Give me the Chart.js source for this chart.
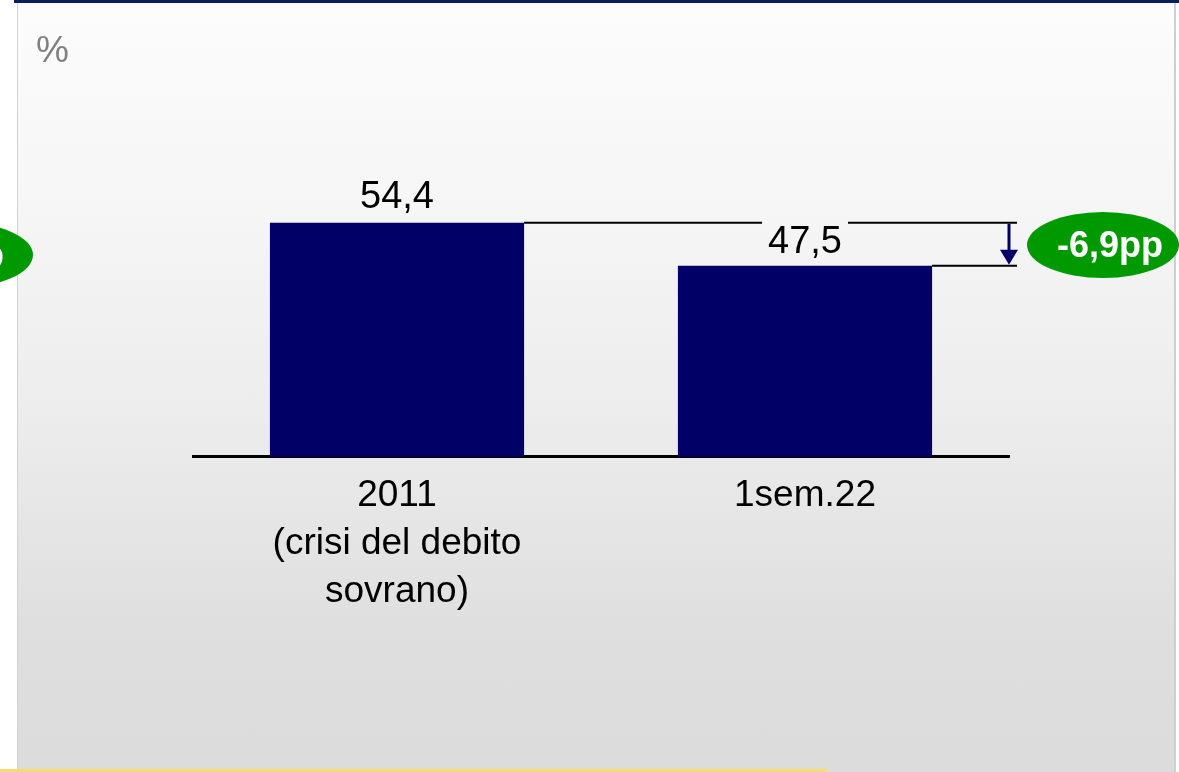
<!DOCTYPE html>
<html>
<head>
<meta charset="utf-8">
<script src="https://cdn.jsdelivr.net/npm/chart.js@4.4.1/dist/chart.umd.min.js"></script>
<style>
  html, body { margin: 0; padding: 0; background: #ffffff; }
  #page { position: relative; width: 1179px; height: 772px; overflow: hidden; background: #ffffff; }
  #panel {
    position: absolute; left: 17px; top: 0; width: 1156px; height: 772px;
    border-left: 1px solid #d2d2d2; border-right: 2px solid #cfcfcf;
    background: linear-gradient(to bottom, #fcfcfc 0px, #f6f6f6 200px, #ececec 420px, #dedede 640px, #dcdcdc 772px);
  }
  #topband { position: absolute; left: 14px; top: 0; width: 1165px; height: 3px; background: #0b1d5a; }
  #bottomline { position: absolute; left: 0; top: 769px; width: 827px; height: 3px; background: #f6da72; }
  #wrap { position: absolute; left: 0; top: 0; width: 1179px; height: 772px; }
</style>
</head>
<body>
<div id="page">
  <div id="panel"></div>
  <div id="topband"></div>
  <div id="bottomline"></div>
  <div id="wrap"><canvas id="chart"></canvas></div>
</div>
<script>
const categories = [["2011", "(crisi del debito", "sovrano)"], "1sem.22"];
const values = [54.4, 47.5];
const valueLabels = ["54,4", "47,5"];
const deltaLabel = "-6,9pp";
const unitLabel = "%";

const FONT = "'Liberation Sans', Arial, sans-serif";
const NAVY = "#000066";
const GREEN = "#009a00";

// annotazioni: linee di riferimento, freccia, ellissi verdi
const annotations = {
    id: "annotations",
    afterDatasetsDraw(chart) {
        const ctx = chart.ctx;
        const meta = chart.getDatasetMeta(0);
        const yScale = chart.scales.y;
        const b1 = meta.data[0], b2 = meta.data[1];
        const y1 = yScale.getPixelForValue(values[0]);
        const y2 = yScale.getPixelForValue(values[1]);
        const r1 = b1.x + b1.width / 2;
        const r2 = b2.x + b2.width / 2;
        const lineEnd = chart.chartArea.right + 8;
        const arrowX = chart.chartArea.right;

        ctx.save();
        ctx.font = "38px " + FONT;
        ctx.textAlign = "center";
        ctx.textBaseline = "alphabetic";

        // etichetta barra 1
        ctx.fillStyle = "#000000";
        ctx.fillText(valueLabels[0], b1.x, y1 - 15);

        // linea orizzontale dal top della barra 1, interrotta dall'etichetta 47,5
        const w2 = ctx.measureText(valueLabels[1]).width;
        const gapL = b2.x - w2 / 2 - 6;
        const gapR = b2.x + w2 / 2 + 6;
        ctx.strokeStyle = "#000000";
        ctx.lineWidth = 2;
        ctx.beginPath();
        ctx.moveTo(r1, y1); ctx.lineTo(gapL, y1);
        ctx.moveTo(gapR, y1); ctx.lineTo(lineEnd, y1);
        ctx.moveTo(r2, y2); ctx.lineTo(lineEnd, y2);
        ctx.stroke();

        ctx.fillText(valueLabels[1], b2.x, y2 - 13);

        // freccia
        ctx.strokeStyle = NAVY;
        ctx.fillStyle = NAVY;
        ctx.lineWidth = 3;
        ctx.beginPath();
        ctx.moveTo(arrowX, y1 + 1); ctx.lineTo(arrowX, y2 - 12);
        ctx.stroke();
        ctx.beginPath();
        ctx.moveTo(arrowX - 9, y2 - 16);
        ctx.lineTo(arrowX + 9, y2 - 16);
        ctx.lineTo(arrowX, y2 - 1);
        ctx.closePath();
        ctx.fill();

        // ellisse verde a destra
        ctx.fillStyle = GREEN;
        ctx.beginPath();
        ctx.ellipse(1103, 245, 76, 33, 0, 0, Math.PI * 2);
        ctx.fill();
        ctx.fillStyle = "#ffffff";
        ctx.font = "bold 36px " + FONT;
        ctx.textBaseline = "middle";
        ctx.fillText(deltaLabel, 1110, 247);

        // ellisse verde tagliata a sinistra
        ctx.fillStyle = GREEN;
        ctx.beginPath();
        ctx.ellipse(-43, 255, 76, 33, 0, 0, Math.PI * 2);
        ctx.fill();
        ctx.fillStyle = "#ffffff";
        ctx.textAlign = "right";
        ctx.fillText("pp", 4, 257);

        // unità
        ctx.fillStyle = "#808080";
        ctx.font = "37px " + FONT;
        ctx.textAlign = "left";
        ctx.textBaseline = "alphabetic";
        ctx.fillText(unitLabel, 36, 62);
        ctx.restore();
    }
};

new Chart(document.getElementById("chart"), {
    type: "bar",
    data: {
        labels: categories,
        datasets: [{
            data: values,
            backgroundColor: NAVY,
            borderWidth: 0,
            barPercentage: 0.623,
            categoryPercentage: 1.0
        }]
    },
    options: {
        responsive: true,
        maintainAspectRatio: false,
        animation: false,
        devicePixelRatio: 1,
        layout: { padding: { left: 193, right: 170, top: 125, bottom: 141 } },
        plugins: { legend: { display: false }, tooltip: { enabled: false } },
        scales: {
            x: {
                grid: { display: false, drawTicks: false },
                border: { display: true, color: "#000000", width: 3 },
                ticks: {
                    color: "#000000",
                    padding: 15,
                    maxRotation: 0,
                    font: { family: FONT, size: 37, lineHeight: 1.3 }
                }
            },
            y: {
                display: false,
                min: 17,
                max: 70
            }
        }
    },
    plugins: [annotations]
});
</script>
</body>
</html>
